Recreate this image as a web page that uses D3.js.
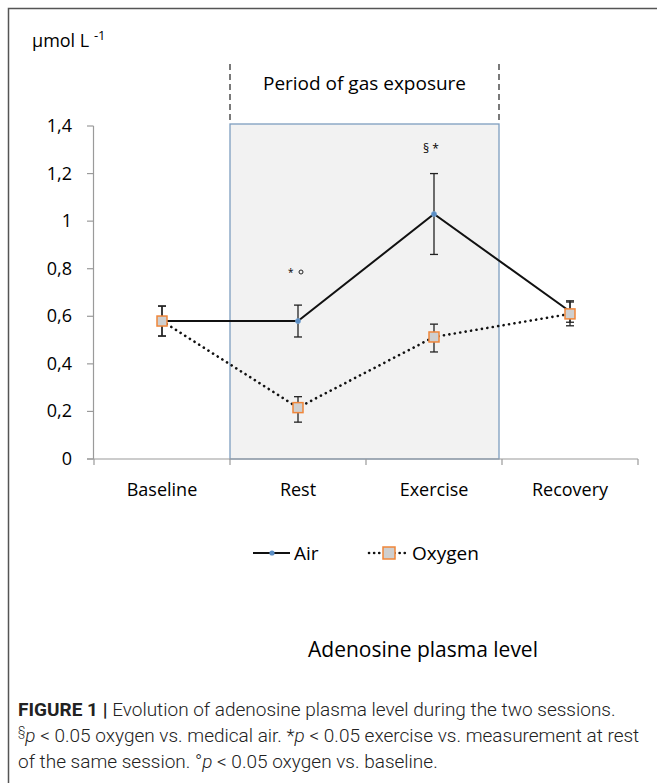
<!DOCTYPE html>
<html>
<head>
<meta charset="utf-8">
<script src="https://cdn.jsdelivr.net/npm/d3@7"></script>
<style>
  body { margin: 0; background: #fff; }
  .chart text { font-family: "Open Sans", Lato, sans-serif; font-weight: 500; fill: #000; }
  .chart text.caption { font-family: Roboto, "Liberation Sans", sans-serif; font-weight: 300; fill: #222; }
</style>
</head>
<body>
<div id="chart"></div>
<script>
// data
const categories = ["Baseline", "Rest", "Exercise", "Recovery"];
const airMean = [0.58, 0.58, 1.03, 0.62];
const airLow  = [0.517, 0.513, 0.86, 0.575];
const airHigh = [0.643, 0.647, 1.2, 0.665];
const oxyMean = [0.58, 0.216, 0.513, 0.61];
const oxyLow  = [0.517, 0.155, 0.45, 0.56];
const oxyHigh = [0.643, 0.262, 0.567, 0.66];
const yTicks = [0, 0.2, 0.4, 0.6, 0.8, 1, 1.2, 1.4];
const exposure = ["Rest", "Exercise"];

const W = 657, H = 783;
const svg = d3.select("#chart").append("svg")
  .attr("width", W).attr("height", H)
  .attr("class", "chart");

// figure frame (left + top lines)
svg.append("path")
  .attr("d", "M8.5,783 L8.5,8.5 L657,8.5")
  .attr("fill", "none").attr("stroke", "#555").attr("stroke-width", 1.5);

const x = d3.scaleBand().domain(categories).range([94, 638]);
const y = d3.scaleLinear().domain([0, 1.4]).range([459, 126]);
const cx = d => x(d) + x.bandwidth() / 2;

// shaded exposure period
const sx0 = x(exposure[0]), sx1 = x(exposure[1]) + x.bandwidth() - 3;
svg.append("rect")
  .attr("x", sx0).attr("y", y(1.4) - 2)
  .attr("width", sx1 - sx0).attr("height", y(0) - y(1.4) + 2)
  .attr("fill", "#f2f2f2").attr("stroke", "#7d9dbf").attr("stroke-width", 1.3);
[sx0, sx1].forEach(px => {
  svg.append("line")
    .attr("x1", px).attr("x2", px).attr("y1", 64).attr("y2", y(1.4) - 2)
    .attr("stroke", "#333").attr("stroke-width", 1.3).attr("stroke-dasharray", "6,4");
});
svg.append("text")
  .attr("x", (sx0 + sx1) / 2).attr("y", 90)
  .attr("text-anchor", "middle").attr("font-size", 19)
  .text("Period of gas exposure");

// y axis
const axisColor = "#9a9a9a";
svg.append("line").attr("x1", 93.5).attr("x2", 93.5).attr("y1", y(1.4)).attr("y2", y(0))
  .attr("stroke", axisColor).attr("stroke-width", 1.2);
yTicks.forEach(t => {
  svg.append("line").attr("x1", 87).attr("x2", 93.5).attr("y1", y(t)).attr("y2", y(t))
    .attr("stroke", axisColor).attr("stroke-width", 1.2);
  svg.append("text").attr("x", 72).attr("y", y(t) + 6)
    .attr("text-anchor", "end").attr("font-size", 18)
    .text(d3.format(".1~f")(t).replace(".", ","));
});
svg.append("text").attr("x", 32).attr("y", 47).attr("font-size", 18)
  .text("µmol L ")
  .append("tspan").attr("dy", -7).attr("font-size", 13).text("-1");

// x axis
svg.append("line").attr("x1", 87).attr("x2", 638).attr("y1", y(0)).attr("y2", y(0))
  .attr("stroke", axisColor).attr("stroke-width", 1.2);
categories.concat([null]).forEach(c => {
  const px = c ? x(c) : x.range()[1];
  svg.append("line").attr("x1", px).attr("x2", px).attr("y1", y(0)).attr("y2", y(0) + 6)
    .attr("stroke", axisColor).attr("stroke-width", 1.2);
});
categories.forEach(c => {
  svg.append("text").attr("x", cx(c)).attr("y", 496)
    .attr("text-anchor", "middle").attr("font-size", 18).text(c);
});

// error bars
function errBars(low, high) {
  categories.forEach((c, i) => {
    const g = svg.append("g").attr("stroke", "#222").attr("stroke-width", 1.3);
    g.append("line").attr("x1", cx(c)).attr("x2", cx(c)).attr("y1", y(low[i])).attr("y2", y(high[i]));
    [low[i], high[i]].forEach(v => {
      g.append("line").attr("x1", cx(c) - 4).attr("x2", cx(c) + 4).attr("y1", y(v)).attr("y2", y(v));
    });
  });
}
errBars(airLow, airHigh);
errBars(oxyLow, oxyHigh);

const line = d3.line().x((d, i) => cx(categories[i])).y(d => y(d));

// oxygen (dotted)
svg.append("path").datum(oxyMean).attr("d", line)
  .attr("fill", "none").attr("stroke", "#111").attr("stroke-width", 2.6)
  .attr("stroke-linecap", "round").attr("stroke-dasharray", "0.1,5.4");
// air (solid)
svg.append("path").datum(airMean).attr("d", line)
  .attr("fill", "none").attr("stroke", "#111").attr("stroke-width", 2);

svg.selectAll(".airpt").data(airMean).enter().append("circle")
  .attr("cx", (d, i) => cx(categories[i])).attr("cy", d => y(d)).attr("r", 2.6)
  .attr("fill", "#5b8ec5").attr("stroke", "#7ba6d3").attr("stroke-width", 0.6)
  .style("display", (d, i) => (i === 0 || i === 3) ? "none" : null);

svg.selectAll(".oxypt").data(oxyMean).enter().append("rect")
  .attr("x", (d, i) => cx(categories[i]) - 5).attr("y", d => y(d) - 5)
  .attr("width", 10).attr("height", 10)
  .attr("fill", "#cfcfcf").attr("stroke", "#f0863a").attr("stroke-width", 1.5);

// significance marks
svg.append("text").attr("x", cx("Rest") - 10).attr("y", 276).attr("font-size", 10).text("*");
svg.append("circle").attr("cx", cx("Rest") + 3).attr("cy", 272).attr("r", 2)
  .attr("fill", "none").attr("stroke", "#222").attr("stroke-width", 1);
svg.append("text").attr("x", cx("Exercise") - 3).attr("y", 153)
  .attr("text-anchor", "middle").attr("font-size", 12).text("§ *");

// legend
const ly = 553;
svg.append("line").attr("x1", 253).attr("x2", 290).attr("y1", ly).attr("y2", ly)
  .attr("stroke", "#111").attr("stroke-width", 2);
svg.append("circle").attr("cx", 272).attr("cy", ly).attr("r", 2.6).attr("fill", "#5b8ec5");
svg.append("text").attr("x", 294).attr("y", ly + 7).attr("font-size", 19).text("Air");
svg.append("line").attr("x1", 369).attr("x2", 406).attr("y1", ly).attr("y2", ly)
  .attr("stroke", "#111").attr("stroke-width", 2.6)
  .attr("stroke-linecap", "round").attr("stroke-dasharray", "0.1,5");
svg.append("rect").attr("x", 383).attr("y", ly - 6).attr("width", 12).attr("height", 12)
  .attr("fill", "#cfcfcf").attr("stroke", "#f0863a").attr("stroke-width", 1.5);
svg.append("text").attr("x", 412).attr("y", ly + 7).attr("font-size", 19).text("Oxygen");

// chart title
svg.append("text").attr("x", 423).attr("y", 657)
  .attr("text-anchor", "middle").attr("font-size", 21).text("Adenosine plasma level");

// caption
const capSize = 19;
const l1 = svg.append("text").attr("x", 18).attr("y", 716).attr("class", "caption").attr("font-size", capSize);
l1.append("tspan").attr("font-weight", 700).text("FIGURE 1 | ");
l1.append("tspan").text("Evolution of adenosine plasma level during the two sessions.");
const l2 = svg.append("text").attr("x", 18).attr("y", 742).attr("class", "caption").attr("font-size", capSize);
l2.append("tspan").attr("font-size", 12).attr("dy", -7).text("§");
l2.append("tspan").attr("font-style", "italic").attr("dy", 7).text("p");
l2.append("tspan").text(" < 0.05 oxygen vs. medical air. *");
l2.append("tspan").attr("font-style", "italic").text("p");
l2.append("tspan").text(" < 0.05 exercise vs. measurement at rest");
const l3 = svg.append("text").attr("x", 18).attr("y", 768).attr("class", "caption").attr("font-size", capSize);
l3.append("tspan").text("of the same session. °");
l3.append("tspan").attr("font-style", "italic").text("p");
l3.append("tspan").text(" < 0.05 oxygen vs. baseline.");
</script>
</body>
</html>
